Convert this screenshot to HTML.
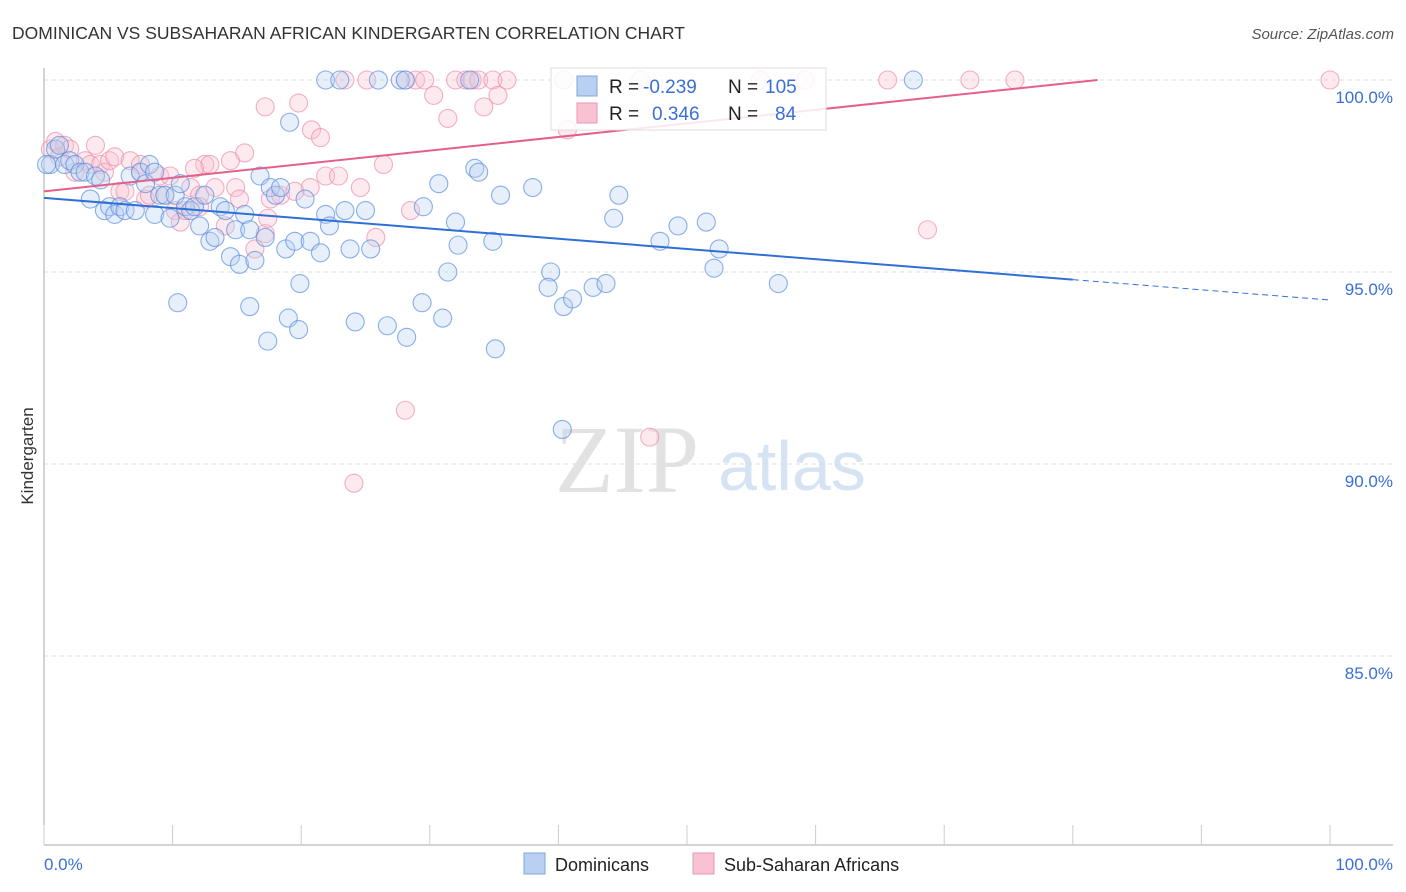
<!DOCTYPE html>
<html><head><meta charset="utf-8"><style>
body{margin:0;background:#fff;font-family:"Liberation Sans",sans-serif;}
#wrap{position:relative;width:1406px;height:892px;overflow:hidden;}
</style></head><body>
<div id="wrap">
<svg id="svg" width="1406" height="892" xmlns="http://www.w3.org/2000/svg">
<text x="12" y="39" font-size="17.5" fill="#333">DOMINICAN VS SUBSAHARAN AFRICAN KINDERGARTEN CORRELATION CHART</text>
<text x="1394" y="39" font-size="15" fill="#555" font-style="italic" text-anchor="end">Source: ZipAtlas.com</text>
<text x="33" y="456" font-size="17" fill="#333" text-anchor="middle" transform="rotate(-90 33 456)">Kindergarten</text>
<text x="555" y="492" font-size="96" fill="#e2e2e2" font-family="Liberation Serif,serif">ZIP</text>
<text x="718" y="490" font-size="70" fill="#d6e3f3">atlas</text>
<g id="grid"></g><g id="pts"></g><g id="lines"></g>
<g>
<rect x="551" y="68" width="275" height="62" fill="#fff" fill-opacity="0.85" stroke="#ddd"/>
<rect x="577" y="76" width="20" height="20" fill="#b9d0f2" stroke="#7fa4dc"/>
<rect x="577" y="103" width="20" height="20" fill="#f9c2d2" stroke="#e898b0"/>
<text x="609" y="93" font-size="19" fill="#222">R =</text>
<text x="643" y="93" font-size="19" fill="#3a6fd8">-0.239</text>
<text x="728" y="93" font-size="19" fill="#222">N =</text>
<text x="765" y="93" font-size="19" fill="#3a6fd8">105</text>
<text x="609" y="120" font-size="19" fill="#222">R =</text>
<text x="652" y="120" font-size="19" fill="#3a6fd8">0.346</text>
<text x="728" y="120" font-size="19" fill="#222">N =</text>
<text x="775" y="120" font-size="19" fill="#3a6fd8">84</text>
</g>
<text x="44" y="870" font-size="17" fill="#3a6fd8">0.0%</text>
<text x="1393" y="870" font-size="17" fill="#3a6fd8" text-anchor="end">100.0%</text>
<rect x="524" y="853" width="21" height="21" fill="#b9d0f2" stroke="#7fa4dc"/>
<text x="555" y="871" font-size="18" fill="#222">Dominicans</text>
<rect x="693" y="853" width="21" height="21" fill="#f9c2d2" stroke="#e898b0"/>
<text x="724" y="871" font-size="18" fill="#222">Sub-Saharan Africans</text>
</svg>
</div>
<script>
const yTicks=[100,95,90,85];
const yTickLabels=["100.0%","95.0%","90.0%","85.0%"];
const blueX=[0.5,0.9,1.2,1.6,2.0,2.4,2.8,3.2,4.0,4.4,3.6,4.7,5.1,5.5,5.9,6.3,6.7,7.1,7.5,7.9,8.2,8.6,8.6,9.0,9.4,9.8,10.2,10.6,11.0,11.4,11.7,12.1,12.5,12.9,13.3,13.7,14.1,14.5,14.9,15.2,15.6,16.0,16.4,16.8,17.2,17.6,18.0,18.4,18.8,19.1,19.5,19.9,20.3,20.7,21.5,21.9,22.2,23.4,23.8,25.0,25.4,26.0,21.9,23.0,27.7,28.1,29.5,30.7,31.4,32.0,32.2,33.1,33.5,33.8,34.9,35.5,38.0,39.4,39.2,40.4,41.1,42.7,43.7,44.3,44.7,47.9,49.3,51.5,52.1,52.5,57.1,67.6,10.4,16.0,17.4,19.0,19.8,24.2,26.7,28.2,29.4,31.0,35.1,40.3,0.2];
const blueY=[97.8,98.2,98.3,97.8,97.9,97.8,97.6,97.6,97.5,97.4,96.9,96.6,96.7,96.5,96.7,96.6,97.5,96.6,97.6,97.3,97.8,97.6,96.5,97.0,97.0,96.4,97.0,97.3,96.7,96.6,96.7,96.2,97.0,95.8,95.9,96.7,96.6,95.4,96.1,95.2,96.5,96.1,95.3,97.5,95.9,97.2,97.0,97.2,95.6,98.9,95.8,94.7,96.9,95.8,95.5,96.5,96.2,96.6,95.6,96.6,95.6,100,100,100,100,100,96.7,97.3,95.0,96.3,95.7,100,97.7,97.6,95.8,97.0,97.2,95.0,94.6,94.1,94.3,94.6,94.7,96.4,97.0,95.8,96.2,96.3,95.1,95.6,94.7,100,94.2,94.1,93.2,93.8,93.5,93.7,93.6,93.3,94.2,93.8,93.0,90.9,97.8];
const pinkX=[0.5,0.9,1.2,1.6,2.0,2.4,3.2,3.6,4.4,4.7,5.1,5.5,5.9,6.3,6.7,7.5,7.9,8.2,9.0,9.4,10.2,10.6,11.0,11.4,12.1,12.5,12.9,13.3,14.1,14.5,14.9,15.2,15.6,16.4,17.2,17.4,17.6,18.4,17.2,19.8,20.7,20.8,21.5,21.9,22.9,23.4,24.6,25.1,25.8,26.4,28.1,28.9,28.1,28.5,29.6,30.3,31.4,32.0,32.8,33.3,33.8,34.2,34.9,35.3,36.0,40.4,40.7,46.4,47.1,55.7,59.2,65.6,68.7,72.0,75.5,100,24.1,12.1,19.5,7.5,9.8,4.0,11.7];
const pinkY=[98.2,98.4,98.0,98.3,98.2,97.6,97.9,97.8,97.8,97.6,97.9,98.0,97.1,97.1,97.9,97.8,96.9,97.0,97.5,97.0,96.6,96.3,96.6,97.2,97.0,97.8,97.8,97.2,96.2,97.9,97.2,96.9,98.1,95.6,96.0,96.4,96.9,97.0,99.3,99.4,97.2,98.7,98.5,97.5,97.5,100,97.2,100,95.9,97.8,100,100,91.4,96.6,100,99.6,99.0,100,100,100,100,99.3,100,99.6,100,100,98.7,100,90.7,100,100,100,96.1,100,100,100,89.5,96.7,97.1,97.6,97.5,98.3,97.7];
const blueTrend=[96.93,-0.0266];
const pinkTrend=[97.1,0.0354];
const X=v=>44+v*12.86, Y=v=>80+(100-v)*38.4;
const NS="http://www.w3.org/2000/svg";
function mk(tag,attrs,parent){const e=document.createElementNS(NS,tag);for(const k in attrs)e.setAttribute(k,attrs[k]);parent.appendChild(e);return e;}
const grid=document.getElementById('grid'),pts=document.getElementById('pts'),lines=document.getElementById('lines');
yTicks.forEach((t,i)=>{
 const l=mk('line',{x1:44,x2:1393,y1:Y(t),y2:Y(t),stroke:'#ddd','stroke-dasharray':'4,4'},grid);
 
 
 const tx=mk('text',{x:1393,y:Y(t)+23,'font-size':17,fill:'#3a6fd8','text-anchor':'end'},grid);
 tx.textContent=yTickLabels[i];
 
 
});
const ax=mk('line',{x1:44,x2:44,y1:68,y2:845,stroke:'#aaa'},grid);


const bx=mk('line',{x1:44,x2:1393,y1:845,y2:845,stroke:'#aaa'},grid);


for(let i=0;i<=10;i++){const t=mk('line',{x1:X(i*10),x2:X(i*10),y1:825,y2:845,stroke:'#ccc'},grid);
 
 }
function drawPts(xs,ys,fill,stroke,name){xs.forEach((x,i)=>{
 const c=mk('circle',{cx:X(x),cy:Y(ys[i]),r:9,fill:fill,'fill-opacity':0.35,stroke:stroke,'stroke-opacity':0.7,'stroke-width':1.1},pts);
 
 });}
drawPts(pinkX,pinkY,'#f9c2d2','#ec8fac','point-subsaharan');
drawPts(blueX,blueY,'#b9d0f2','#5a8ee0','point-dominican');
const f=(tr,x)=>tr[0]+tr[1]*x;
let l1=mk('line',{x1:X(0),y1:Y(f(blueTrend,0)),x2:X(80),y2:Y(f(blueTrend,80)),stroke:'#2f6fd6','stroke-width':2},lines);


let l2=mk('line',{x1:X(80),y1:Y(f(blueTrend,80)),x2:X(100),y2:Y(f(blueTrend,100)),stroke:'#2f6fd6','stroke-width':1,'stroke-dasharray':'6,4'},lines);


const pEnd=(100-pinkTrend[0])/pinkTrend[1];
let l3=mk('line',{x1:X(0),y1:Y(f(pinkTrend,0)),x2:X(pEnd),y2:Y(100),stroke:'#e4608a','stroke-width':2},lines);


</script>
</body></html>
